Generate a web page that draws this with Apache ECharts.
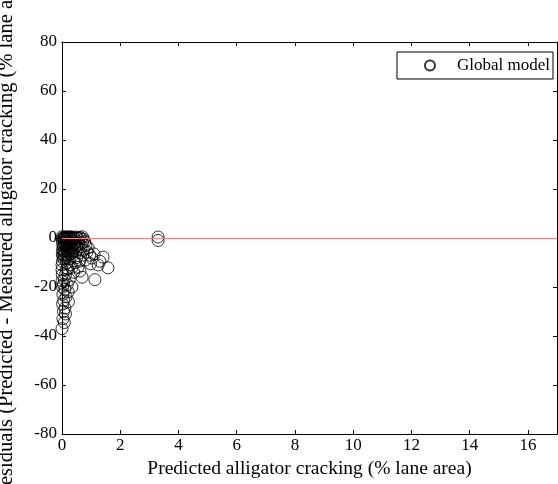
<!DOCTYPE html>
<html><head><meta charset="utf-8">
<script src="https://cdn.jsdelivr.net/npm/echarts@6/dist/echarts.min.js"></script>
<style>html,body{margin:0;padding:0;background:#fff}#c{width:558px;height:484px}</style>
</head><body><div id="c"></div>
<script>
const predicted = [0.00,0.02,0.04,0.06,0.08,0.10,0.12,0.14,0.16,0.18,0.20,0.22,0.24,0.26,0.28,0.30,0.32,0.35,0.38,0.41,0.44,0.48,0.52,0.56,0.60,0.65,0.70,0.74,
0.01,0.03,0.05,0.02,0.04,0.01,0.03,0.06,0.02,0.08,0.10,0.12,0.09,0.11,0.07,0.13,0.15,0.17,0.19,0.16,0.20,0.18,0.22,0.24,0.26,0.23,0.28,0.25,0.30,0.33,0.31,0.36,0.34,0.40,0.43,0.38,0.46,0.50,0.48,0.55,0.58,0.62,0.66,0.70,0.74,0.78,0.82,0.86,0.90,0.95,1.03,1.10,1.24,1.41,1.58,1.13,1.30,0.98,0.80,0.69,0.55,0.62,0.45,0.34,0.40,0.28,0.34,0.21,0.25,0.15,0.12,0.08,0.05,0.10,0.03,0.14,0.06,0.02,0.10,0.05,0.12,0.03,0.08,0.00,0.00,0.00,0.01,0.00,0.02,0.18,0.22,0.16,0.20,0.50,0.60,0.72,3.30,3.30];
const residual = [0.5,0,-0.5,0.3,0,-0.3,0.5,0,-0.4,0.3,0,-0.5,0.4,0,-0.3,0.5,0,-0.4,0.3,0,-0.2,0.4,0,-0.3,0.2,0,0.5,-0.5,
-1.5,-2.5,-3.5,-4.5,-5.5,-6.5,-7.5,-8.5,-9.5,-1.8,-2.8,-4,-5,-6.2,-7,-8,-1.5,-2.5,-3.6,-4.8,-5.8,-7.2,-2,-3,-4.2,-5.2,-6.4,-8.5,-2.2,-3.4,-4.8,-6,-7.5,-2.6,-4,-5.2,-2,-3.2,-5.5,-4.5,-2.5,-6,-3.5,-2,-5,-1.5,-3,-5.7,-4,-7,-8.2,-6.5,-11,-7.8,-12.2,-17,-9.5,-10.5,-9,-16,-12,-13.5,-10,-12,-14,-11,-20,-22,-17,-13,-15,-17,-19,-21,-23,-24,-25.5,-27,-28.6,-30,-31,-33,-34.5,-37,-11,-13,-15,-17.5,-20,-19,-26,-10,-12.5,-8,-9.5,-7,0.4,-1.0];
const xTicks = [0,2,4,6,8,10,12,14,16];
const yTicks = [-80,-60,-40,-20,0,20,40,60,80];
const seriesName = 'Global model';

const pts = predicted.map((x,i)=>[x,residual[i]]);
const font = 'Liberation Serif';
const chart = echarts.init(document.getElementById('c'));
const tickStyle = {show:true, inside:true, length:4, lineStyle:{color:'#000'}};
chart.setOption({
  backgroundColor:'#fff',
  animation:false,
  grid:{left:62,right:1,top:42,bottom:50,containLabel:false,outerBoundsMode:'none'},
  legend:{
    show:true, right:5, top:52,
    data:[{name:seriesName, icon:'circle'}],
    itemWidth:10, itemHeight:10,
    borderColor:'#000', borderWidth:1, backgroundColor:'#fff',
    padding:[5,3,5,27],
    textStyle:{fontFamily:font, fontSize:17, color:'#000', padding:[0,0,0,17]}
  },
  xAxis:[{
    type:'value', min:0, max:17, interval:2, position:'bottom',
    name:'Predicted alligator cracking (% lane area)', nameLocation:'middle', nameGap:16,
    nameTextStyle:{fontFamily:font, fontSize:19.5, color:'#000', verticalAlign:'top'},
    axisLine:{show:true, onZero:false, lineStyle:{color:'#000'}},
    axisTick:tickStyle,
    axisLabel:{fontFamily:font, fontSize:17, color:'#000', margin:3,
      formatter:v=> xTicks.indexOf(v)>=0 ? String(v) : ''},
    splitLine:{show:false}
  },{
    type:'value', min:0, max:17, interval:2, position:'top',
    axisLine:{show:true, onZero:false, lineStyle:{color:'#000'}},
    axisTick:tickStyle, axisLabel:{show:false}, splitLine:{show:false}
  }],
  yAxis:[{
    type:'value', min:-80, max:80, interval:20, position:'left',
    name:'Residuals (Predicted - Measured alligator cracking (% lane area))', nameLocation:'middle', nameGap:45,
    nameTextStyle:{fontFamily:font, fontSize:20.5, color:'#000', padding:[0,0,0,16]},
    axisLine:{show:true, onZero:false, lineStyle:{color:'#000'}},
    axisTick:tickStyle,
    axisLabel:{fontFamily:font, fontSize:17, color:'#000', margin:5,
      formatter:v=> yTicks.indexOf(v)>=0 ? String(v) : ''},
    splitLine:{show:false}
  },{
    type:'value', min:-80, max:80, interval:20, position:'right',
    axisLine:{show:true, onZero:false, lineStyle:{color:'#000'}},
    axisTick:tickStyle, axisLabel:{show:false}, splitLine:{show:false}
  }],
  series:[{
    name:seriesName, type:'scatter', data:pts, symbol:'circle', symbolSize:12,
    itemStyle:{color:'rgba(0,0,0,0)', borderColor:'#000', borderWidth:1},
    clip:false,
    markLine:{
      silent:true, symbol:'none', label:{show:false},
      lineStyle:{color:'#ff8080', width:1, type:'solid'},
      data:[{yAxis:0}]
    }
  }]
});
</script></body></html>
